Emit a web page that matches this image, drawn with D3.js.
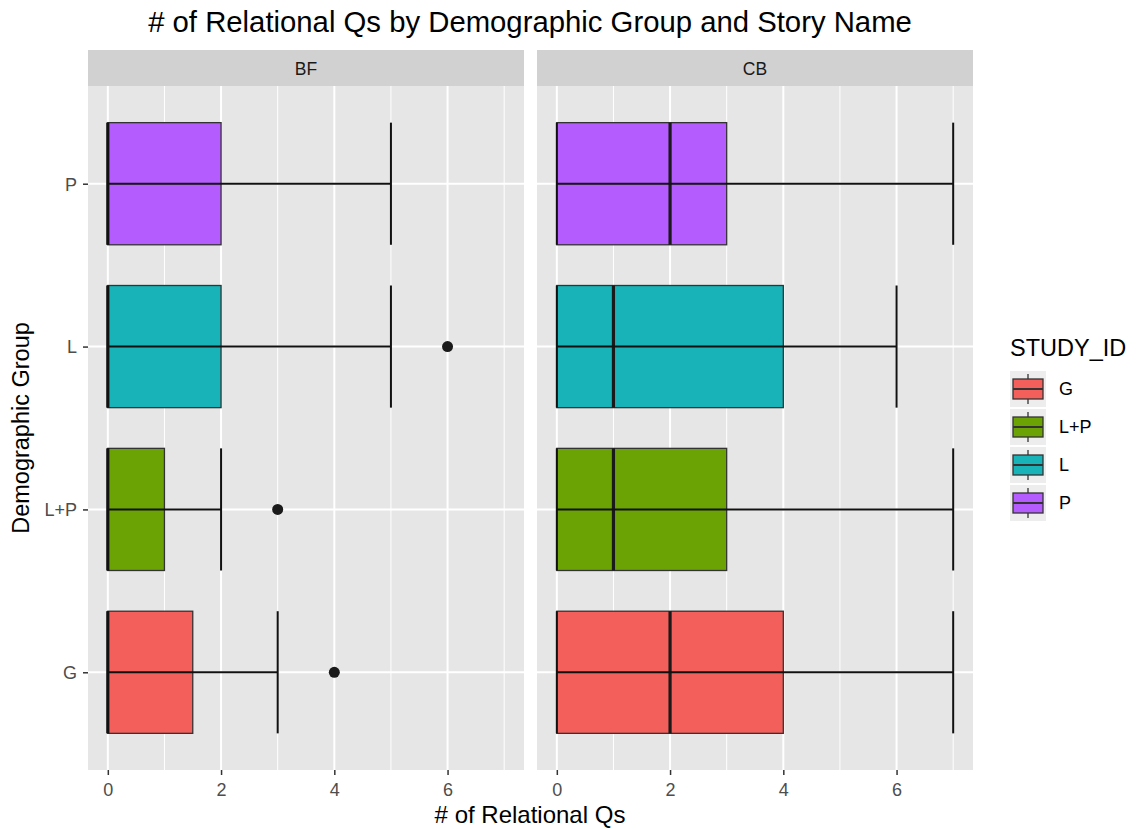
<!DOCTYPE html>
<html><head><meta charset="utf-8">
<script src="https://cdn.jsdelivr.net/npm/d3@7"></script>
<style>body{margin:0;background:#fff}text{font-family:"Liberation Sans",Arial,sans-serif}</style>
</head><body><svg id="c" width="1142" height="829"></svg>
<script>
const groups = ["G","L+P","L","P"];
const stories = ["BF","CB"];
const colors = ["#F35F5B","#6BA304","#17B3B8","#B45CFE"];
const xTicks = [0,2,4,6];
// per story, per group: [min, q1, median, q3, max]
const bfStats = [[0,0,0,1.5,3],[0,0,0,1,2],[0,0,0,2,5],[0,0,0,2,5]];
const cbStats = [[0,0,2,4,7],[0,0,1,3,7],[0,0,1,4,6],[0,0,2,3,7]];
const bfOutliers = [[4],[3],[6],[]];
const cbOutliers = [[],[],[],[]];

const statsByStory = [bfStats, cbStats];
const outByStory = [bfOutliers, cbOutliers];

const FONT = "Liberation Sans, Arial, sans-serif";
const svg = d3.select("#c");
const panelTop = 86, panelBottom = 770, stripTop = 50;
const panelsX = [[88,524],[537,973]];

const yp = d3.scalePoint().domain(groups.slice().reverse()).range([panelTop, panelBottom]).padding(0.6);
const step = yp.step();
const boxH = step*0.75;

svg.append("text").attr("x",530).attr("y",32).attr("text-anchor","middle").attr("font-size",29.3).attr("fill","#000")
  .text("# of Relational Qs by Demographic Group and Story Name");

stories.forEach((s, si) => {
  const [x0,x1] = panelsX[si];
  const x = d3.scaleLinear().domain([-0.35,7.35]).range([x0,x1]);
  const g = svg.append("g");
  g.append("rect").attr("x",x0).attr("y",stripTop).attr("width",x1-x0).attr("height",panelTop-stripTop).attr("fill","#D1D1D1");
  g.append("text").attr("x",(x0+x1)/2).attr("y",75).attr("text-anchor","middle").attr("font-size",17.5).attr("fill","#1A1A1A").text(s);
  g.append("rect").attr("x",x0).attr("y",panelTop).attr("width",x1-x0).attr("height",panelBottom-panelTop).attr("fill","#E6E6E6");
  [1,3,5,7].forEach(v=>g.append("line").attr("x1",x(v)).attr("x2",x(v)).attr("y1",panelTop).attr("y2",panelBottom).attr("stroke","#fff").attr("stroke-width",1));
  xTicks.forEach(v=>g.append("line").attr("x1",x(v)).attr("x2",x(v)).attr("y1",panelTop).attr("y2",panelBottom).attr("stroke","#fff").attr("stroke-width",2));
  groups.forEach(gr=>g.append("line").attr("x1",x0).attr("x2",x1).attr("y1",yp(gr)).attr("y2",yp(gr)).attr("stroke","#fff").attr("stroke-width",2));
  const ax = g.append("g").attr("transform",`translate(0,${panelBottom})`).call(d3.axisBottom(x).tickValues(xTicks).tickSize(5).tickPadding(5));
  ax.attr("font-size",null).attr("font-family",null);
  ax.select(".domain").remove();
  ax.selectAll("line").attr("stroke","#333").attr("stroke-width",1.5);
  ax.selectAll("text").attr("dy",null).attr("y",26).style("font-size","18px").attr("fill","#4D4D4D").style("font-family",FONT);
  if (si===0) {
    const ay = g.append("g").attr("transform",`translate(${x0},0)`).call(d3.axisLeft(yp).tickSize(5).tickPadding(6));
    ay.attr("font-size",null).attr("font-family",null);
    ay.select(".domain").remove();
    ay.selectAll("line").attr("stroke","#333").attr("stroke-width",1.5);
    ay.selectAll("text").attr("dy","0.35em").style("font-size","18px").attr("fill","#4D4D4D").style("font-family",FONT);
  }
  groups.forEach((gr, gi) => {
    const [mn,q1,md,q3,mx] = statsByStory[si][gi];
    const cy = yp(gr);
    g.append("rect").attr("x",x(q1)).attr("y",cy-boxH/2).attr("width",x(q3)-x(q1)).attr("height",boxH)
      .attr("fill",colors[gi]).attr("stroke","#333").attr("stroke-width",1.3);
    g.append("line").attr("x1",x(md)).attr("x2",x(md)).attr("y1",cy-boxH/2).attr("y2",cy+boxH/2).attr("stroke","#1a1a1a").attr("stroke-width",3.2);
    g.append("line").attr("x1",x(mn)).attr("x2",x(mx)).attr("y1",cy).attr("y2",cy).attr("stroke","#111").attr("stroke-width",2);
    [mn,mx].forEach(v=>g.append("line").attr("x1",x(v)).attr("x2",x(v)).attr("y1",cy-boxH/2).attr("y2",cy+boxH/2).attr("stroke","#111").attr("stroke-width",2));
    outByStory[si][gi].forEach(v=>g.append("circle").attr("cx",x(v)).attr("cy",cy).attr("r",5.5).attr("fill","#1a1a1a"));
  });
});

svg.append("text").attr("x",530).attr("y",823).attr("text-anchor","middle").attr("font-size",24).attr("fill","#000").text("# of Relational Qs");
svg.append("text").attr("transform",`translate(29,${(panelTop+panelBottom)/2}) rotate(-90)`).attr("text-anchor","middle").attr("font-size",23.5).attr("fill","#000").text("Demographic Group");

const lg = svg.append("g");
lg.append("text").attr("x",1010).attr("y",356).attr("font-size",23.5).attr("fill","#000").text("STUDY_ID");
groups.forEach((gr, gi) => {
  const ky = 371 + gi*38;
  lg.append("rect").attr("x",1010).attr("y",ky).attr("width",36).attr("height",36).attr("fill","#EDEDED");
  lg.append("line").attr("x1",1028).attr("x2",1028).attr("y1",ky+3).attr("y2",ky+33).attr("stroke","#333").attr("stroke-width",1.3);
  lg.append("rect").attr("x",1013).attr("y",ky+8).attr("width",30).attr("height",20).attr("fill",colors[gi]).attr("stroke","#333").attr("stroke-width",1.3);
  lg.append("line").attr("x1",1013).attr("x2",1043).attr("y1",ky+18).attr("y2",ky+18).attr("stroke","#333").attr("stroke-width",2);
  lg.append("text").attr("x",1059).attr("y",ky+24).attr("font-size",18).attr("fill","#000").text(gr);
});
</script></body></html>
